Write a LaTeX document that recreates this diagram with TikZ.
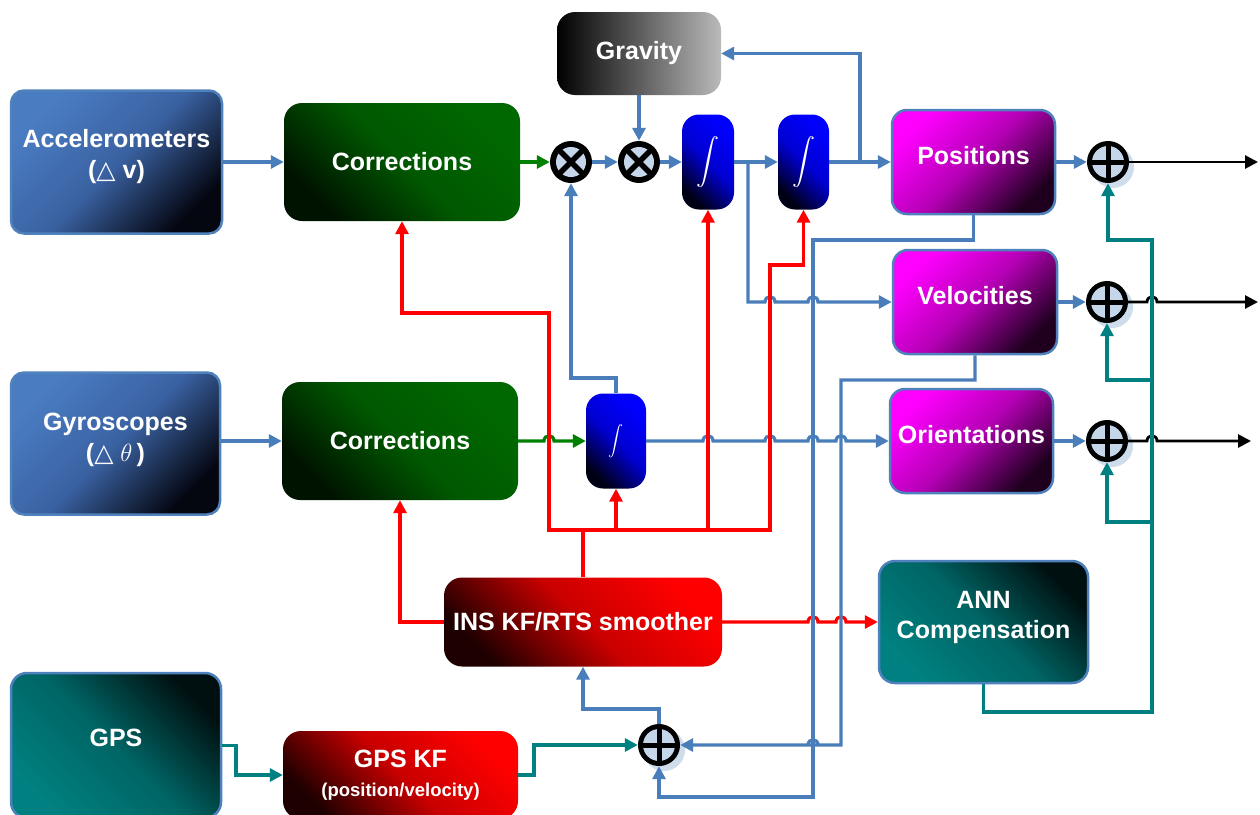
\documentclass[tikz,border=0pt]{standalone}
\usepackage{graphicx}
\usepackage{fontspec}
\setmainfont{Liberation Sans}
\newfontfamily\symfont{DejaVu Sans}
\usetikzlibrary{arrows.meta,shadows,calc}

\definecolor{lineblue}{RGB}{74,126,187}
\definecolor{frameblue}{RGB}{79,129,189}
\definecolor{tealline}{RGB}{0,128,128}
\definecolor{greenline}{RGB}{0,128,0}
\definecolor{accA}{RGB}{74,124,194}
\definecolor{accM}{RGB}{58,98,162}
\definecolor{accB}{RGB}{4,6,16}
\definecolor{grnA}{RGB}{0,104,0}
\definecolor{grnM}{RGB}{0,88,0}
\definecolor{grnB}{RGB}{0,18,0}
\definecolor{intA}{RGB}{0,0,255}
\definecolor{intM}{RGB}{0,0,210}
\definecolor{intB}{RGB}{0,0,20}
\definecolor{magA}{RGB}{255,0,255}
\definecolor{magM}{RGB}{180,0,180}
\definecolor{magB}{RGB}{30,0,30}
\definecolor{tlA}{RGB}{0,16,16}
\definecolor{tlM}{RGB}{0,100,100}
\definecolor{tlB}{RGB}{0,128,128}
\definecolor{redA}{RGB}{255,0,0}
\definecolor{redM}{RGB}{200,0,0}
\definecolor{redB}{RGB}{30,0,0}
\definecolor{discfill}{RGB}{197,213,234}

% a small bump where a horizontal line passes over a vertical one
\newcommand\linehop[2]{-- ({#1-5},#2) .. controls ({#1-5},{#2-7}) and ({#1+5},{#2-7}) .. ({#1+5},#2)}
% integral sign inside the integrator blocks
\newcommand\intsign[1]{\scalebox{#1}{$\displaystyle\int$}}

\tikzset{
  conn/.style={line width=3.2pt},
  arr/.style={-{Triangle[length=13pt,width=13pt]}},
  bl/.style={conn, draw=lineblue},
  rd/.style={conn, draw=red},
  tl/.style={conn, draw=tealline},
  gl/.style={conn, draw=greenline},
  bk/.style={line width=2.8pt, draw=black},
  box/.style={rectangle, align=center, text=white, inner sep=0pt,
    font=\bfseries\fontsize{25}{31}\selectfont},
  sensorbox/.style={box, rounded corners=13pt, draw=frameblue, line width=2.5pt,
    top color=accA, bottom color=accB, middle color=accM, shading angle=45},
  greenbox/.style={box, rounded corners=18pt,
    top color=grnA, bottom color=grnB, middle color=grnM, shading angle=-45},
  gravbox/.style={box, rounded corners=18pt, left color=black, right color=black!27},
  intbox/.style={rectangle, rounded corners=17pt, text=white, inner sep=0pt,
    top color=intA, bottom color=intB, middle color=intM, shading angle=-45},
  outbox/.style={box, rounded corners=15pt, draw=frameblue, line width=2.5pt,
    top color=magA, bottom color=magB, middle color=magM, shading angle=45},
  tealbox/.style={box, rounded corners=16pt, draw=frameblue, line width=2.5pt,
    top color=tlA, bottom color=tlB, middle color=tlM, shading angle=-45},
  redbox/.style={box, rounded corners=18pt,
    top color=redA, bottom color=redB, middle color=redM, shading angle=-45},
  multnode/.style={circle, fill=black, minimum size=42pt, inner sep=0pt,
    path picture={
      \fill[discfill] (path picture bounding box.center) circle[radius=15pt];
      \draw[line width=5.5pt] (path picture bounding box.south west) -- (path picture bounding box.north east);
      \draw[line width=5.5pt] (path picture bounding box.north west) -- (path picture bounding box.south east);
    }},
  sumnode/.style={circle, fill=black, minimum size=42pt, inner sep=0pt,
    drop shadow={shadow xshift=5pt, shadow yshift=-5pt, fill=lineblue!45, opacity=0.6},
    path picture={
      \fill[discfill] (path picture bounding box.center) circle[radius=16pt];
      \draw[line width=5pt] (path picture bounding box.north) -- (path picture bounding box.south);
      \draw[line width=5pt] (path picture bounding box.west) -- (path picture bounding box.east);
    }},
}

\begin{document}
\begin{tikzpicture}[x=1pt, y=-1pt]
\fill[white] (0,0) rectangle (1260,814);
\useasboundingbox (0,0) rectangle (1260,814);

% sensors
\node[sensorbox, minimum width=211pt, minimum height=143pt, text depth=16pt] (Acc) at (116.5,162)
  {Accelerometers\\({\symfont\mdseries △} v)};
\node[sensorbox, minimum width=209pt, minimum height=142pt, text depth=12pt] (Gyro) at (115.5,443.5)
  {Gyroscopes\\({\symfont\mdseries △} $\theta$\,)};
\node[tealbox, minimum width=210pt, minimum height=145pt, text height=18pt, text depth=17pt] (GPS) at (116,745.5) {GPS};

% corrections and filters
\node[greenbox, minimum width=236pt, minimum height=118pt] (C1) at (402,162) {Corrections};
\node[greenbox, minimum width=236pt, minimum height=118pt] (C2) at (400,441) {Corrections};
\node[gravbox, minimum width=164pt, minimum height=83pt] (Grav) at (639,53.5) {Gravity};
\node[redbox, minimum width=278pt, minimum height=89pt] (INS) at (583,622) {INS KF/RTS smoother};
\node[redbox, minimum width=235pt, minimum height=88pt] (GPSKF) at (400.5,775)
  {GPS KF\\[-2pt]{\fontsize{18.5}{22}\selectfont(position/velocity)}};
\node[tealbox, minimum width=209pt, minimum height=122pt, text depth=14pt] (ANN) at (983.5,622)
  {ANN\\[-1pt]Compensation};

% multipliers and integrators
\node[multnode] (M1) at (571,162) {};
\node[multnode] (M2) at (639,162) {};
\node[intbox, minimum width=52pt, minimum height=95pt] (I1) at (708,162) {\intsign{2.3}};
\node[intbox, minimum width=51pt, minimum height=95pt] (I2) at (803.5,162) {\intsign{2.3}};
\node[intbox, minimum width=60pt, minimum height=95pt] (I3) at (616,441) {\intsign{1.5}};

% navigation states
\node[outbox, minimum width=163pt, minimum height=104pt, text height=18pt, text depth=14pt] (Pos) at (973.5,162) {Positions};
\node[outbox, minimum width=164pt, minimum height=104pt, text height=18pt, text depth=14pt] (Vel) at (975,302) {Velocities};
\node[outbox, minimum width=163pt, minimum height=104pt, text height=18pt, text depth=14pt] (Ori) at (971.5,441) {Orientations};

% summing junctions
\node[sumnode] (S1) at (1108,162) {};
\node[sumnode] (S2) at (1107,302) {};
\node[sumnode] (S3) at (1107,441) {};
\node[sumnode] (SB) at (659,745) {};

% branch points and free ends
\coordinate (b1) at (748,162);
\coordinate (b2) at (860,162);
\coordinate (rj) at (583,530);
\coordinate (t1) at (1152,240);
\coordinate (t2) at (1152,380);
\coordinate (t3) at (1152,522);
\coordinate (o1) at (1258,162);
\coordinate (o2) at (1258,302);
\coordinate (o3) at (1251,441);

% accelerometer chain
\draw[bl,arr] (Acc) -- (C1);
\draw[gl,arr] (C1) -- (M1);
\draw[bl,arr] (M1) -- (M2);
\draw[bl,arr] (Grav) -- (M2);
\draw[bl,arr] (M2) -- (I1);
\draw[bl,arr] (I1) -- (I2);
\draw[bl,arr] (I2) -- (Pos);
\draw[bl,arr] (b2) |- (Grav.east);
\draw[bl,arr] (b1) -- (748,302) \linehop{770}{302} \linehop{813}{302} -- (Vel.west);

% gyroscope chain
\draw[bl,arr] (Gyro.east |- C2.west) -- (C2.west);
\draw[gl,arr] (C2.east) \linehop{549}{441} -- (I3.west);
\draw[bl,arr] (I3.east) \linehop{708}{441} \linehop{770}{441} \linehop{813}{441} \linehop{841}{441} -- (Ori.west);
\draw[bl,arr] (I3.north) -- (616,378) -| (M1.south);

% outputs
\draw[bl,arr] (Pos) -- (S1);
\draw[bl,arr] (Vel) -- (S2);
\draw[bl,arr] (Ori) -- (S3);
\draw[bk,arr] (S1.east) -- (o1);
\draw[bk,arr] (S2.east) \linehop{1152}{302} -- (o2);
\draw[bk,arr] (S3.east) \linehop{1152}{441} -- (o3);

% ANN compensation
\draw[rd,arr] (INS.east) \linehop{813}{622} \linehop{841}{622} -- (ANN.west);
\draw[tl,arr] (ANN.south) |- (1152,712) -- (t1) -| (S1.south);
\draw[tl,arr] (t2) -| (S2.south);
\draw[tl,arr] (t3) -| (S3.south);

% filter corrections
\draw[rd] (INS.north) -- (rj);
\draw[rd,arr] (rj) -| (549,313) -| (C1.south);
\draw[rd,arr] (rj) -| (I3.south);
\draw[rd,arr] (rj) -| (I1.south);
\draw[rd,arr] (rj) -| (770,265) -| (I2.south);
\draw[rd,arr] (INS.west) -| (C2.south);

% INS / GPS difference
\draw[bl,arr] (Pos.south) |- (813,240) -- (813,797) -| (SB.south);
\draw[bl,arr] (Vel.south) |- (841,380) -- (841,745) \linehop{813}{745} -- (SB.east);
\draw[bl,arr] (SB.north) -- (659,709) -| (INS.south);
\draw[tl,arr] (GPS.east) -- (236,745.5) |- (GPSKF.west);
\draw[tl,arr] (GPSKF.east) -- (534,775) |- (SB.west);
\end{tikzpicture}
\end{document}
